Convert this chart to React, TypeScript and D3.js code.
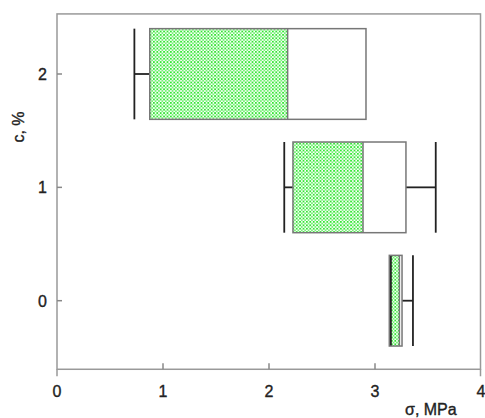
import React from "react";
import * as d3 from "d3";

const categories = [0, 1, 2];
const whiskerLow = [3.15, 2.144, 0.73];
const q1 = [3.135, 2.226, 0.875];
const median = [3.23, 2.887, 2.176];
const q3 = [3.255, 3.292, 2.915];
const whiskerHigh = [3.358, 3.573, 2.915];
const xTicks = [0, 1, 2, 3, 4];
const yTicks = [0, 1, 2];

const W = 485;
const H = 418;

export default function App() {
  const x = d3.scaleLinear().domain([0, 4]).range([57, 481]);
  const y = d3.scaleLinear().domain([0, 2]).range([300.7, 74]);
  const half = 0.4;
  const top = y(2.53);
  const bottom = y(-0.605);
  const left = x(0);
  const right = 480.5;
  const font = "'Liberation Sans', Arial, sans-serif";
  const txt = { fontFamily: font, fontSize: 16, fill: "#222", stroke: "#222", strokeWidth: 0.35 };
  return (
    <svg width={W} height={H} style={{ position: "absolute", left: 0, top: 0, background: "#fff" }}>
      <defs>
        <pattern id="chk" width={3.4} height={3.4} patternUnits="userSpaceOnUse">
          <rect width={3.4} height={3.4} fill="#ffffff" />
          <rect x={0} y={0} width={1.8} height={1.8} fill="#33e633" />
          <rect x={1.7} y={1.7} width={1.7} height={1.7} fill="#77f077" />
        </pattern>
      </defs>
      {categories.map((c, i) => {
        const yt = y(c + half);
        const yb = y(c - half);
        const yc = y(c);
        return (
          <g key={c}>
            <rect x={x(q1[i])} y={yt} width={x(median[i]) - x(q1[i])} height={yb - yt} fill="url(#chk)" />
            {whiskerLow[i] < q1[i] && (
              <line x1={x(whiskerLow[i])} x2={x(q1[i])} y1={yc} y2={yc} stroke="#222" strokeWidth={1.8} />
            )}
            <line x1={x(whiskerLow[i])} x2={x(whiskerLow[i])} y1={yt} y2={yb} stroke="#222" strokeWidth={1.8} />
            {whiskerHigh[i] > q3[i] && (
              <g>
                <line x1={x(q3[i])} x2={x(whiskerHigh[i])} y1={yc} y2={yc} stroke="#222" strokeWidth={1.8} />
                <line x1={x(whiskerHigh[i])} x2={x(whiskerHigh[i])} y1={yt} y2={yb} stroke="#222" strokeWidth={1.8} />
              </g>
            )}
            <rect x={x(q1[i])} y={yt} width={x(q3[i]) - x(q1[i])} height={yb - yt} fill="none" stroke="#777" strokeWidth={1.5} />
            <line x1={x(median[i])} x2={x(median[i])} y1={yt} y2={yb} stroke="#777" strokeWidth={1.5} />
          </g>
        );
      })}
      <rect x={left} y={top} width={right - left} height={bottom - top} fill="none" stroke="#999" strokeWidth={1.5} />
      <line x1={left} x2={left} y1={bottom} y2={bottom + 7} stroke="#999" strokeWidth={1.5} />
      <line x1={right} x2={right} y1={bottom} y2={bottom + 7} stroke="#999" strokeWidth={1.5} />
      {xTicks.map((t) => (
        <g key={"x" + t}>
          {t > 0 && t < 4 && (
            <line x1={x(t)} x2={x(t)} y1={bottom} y2={bottom - 6} stroke="#888" strokeWidth={1.5} />
          )}
          <text x={x(t)} y={397} textAnchor="middle" {...txt}>
            {t}
          </text>
        </g>
      ))}
      {yTicks.map((t) => (
        <g key={"y" + t}>
          <line x1={left} x2={left + 5} y1={y(t)} y2={y(t)} stroke="#888" strokeWidth={1.5} />
          <text x={47} y={y(t) + 6} textAnchor="end" {...txt}>
            {t}
          </text>
        </g>
      ))}
      <text transform="translate(24,127) rotate(-90)" textAnchor="middle" {...txt}>
        c, %
      </text>
      <text x={405} y={415} {...txt}>
        σ, MPa
      </text>
    </svg>
  );
}
